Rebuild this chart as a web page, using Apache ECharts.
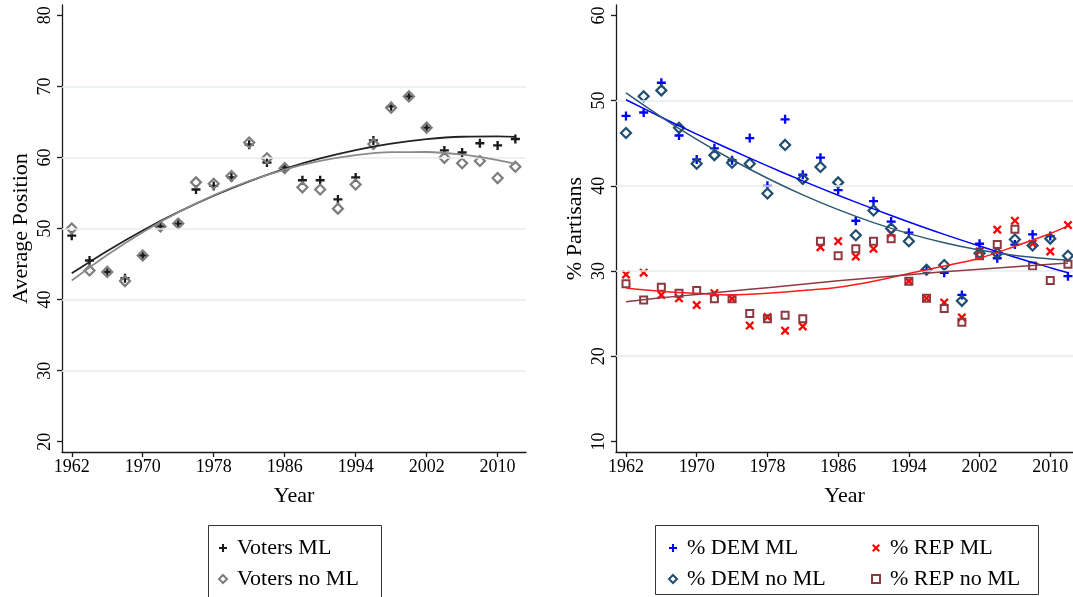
<!DOCTYPE html>
<html><head><meta charset="utf-8">
<script src="https://cdn.jsdelivr.net/npm/echarts@6/dist/echarts.min.js"></script>
<style>html,body{margin:0;padding:0;background:#fff}#c{width:1073px;height:597px}</style>
</head><body><div id="c"></div>
<script>
const years = [1962,1964,1966,1968,1970,1972,1974,1976,1978,1980,1982,1984,1986,1988,1990,1992,1994,1996,1998,2000,2002,2004,2006,2008,2010,2012];
const votersML   = [49.0,45.5,43.9,43.0,46.2,50.3,50.7,55.5,56.0,57.2,61.8,59.3,58.6,56.8,56.8,54.1,57.2,62.4,67.2,68.6,64.2,61.0,60.7,62.0,61.7,62.6];
const votersNoML = [50.0,44.1,43.9,42.6,46.2,50.3,50.7,56.5,56.3,57.4,62.1,59.9,58.5,55.8,55.5,52.8,56.2,61.9,67.0,68.6,64.2,59.95,59.2,59.5,57.1,58.7];
const demML   = [48.2,48.6,52.1,45.9,43.1,44.4,43.0,45.6,40.0,47.8,41.3,43.3,39.5,35.9,38.2,35.8,34.5,30.1,29.8,27.2,33.2,31.5,33.1,34.3,34.1,29.4];
const demNoML = [46.2,50.5,51.2,46.8,42.6,43.6,42.7,42.6,39.1,44.8,40.8,42.2,40.4,34.2,37.1,35.0,33.5,30.15,30.7,26.5,32.1,32.1,33.7,33.0,33.8,31.8];
const repML   = [29.6,29.8,27.2,26.8,26.0,27.4,26.75,23.6,24.6,23.0,23.5,32.8,33.5,31.7,32.6,34.4,28.8,26.8,26.3,24.55,32.3,34.85,35.9,33.2,32.3,35.4];
const repNoML = [28.5,26.6,28.1,27.4,27.7,26.75,26.75,25.0,24.4,24.8,24.4,33.5,31.8,32.6,33.5,33.8,28.8,26.8,25.6,24.0,31.8,33.1,34.9,30.6,28.9,30.8];

const fitYears = [1962,1966,1970,1974,1978,1982,1986,1990,1994,1998,2002,2006,2010,2012];
const fitVotersML   = [43.7,46.85,49.73,52.31,54.62,56.65,58.4,59.87,61.05,61.95,62.58,62.92,62.97,62.9];
const fitVotersNoML = [42.7,46.29,49.49,52.29,54.69,56.69,58.3,59.51,60.33,60.75,60.77,60.4,59.64,59.1];
const fitDemML   = [50.1,48.05,46.07,44.17,42.34,40.58,38.9,37.29,35.76,34.3,32.93,31.62,30.39,29.8];
const fitDemNoML = [50.9,48.07,45.45,43.06,40.89,38.93,37.2,35.68,34.39,33.32,32.46,31.83,31.42,31.3];
const fitRepML   = [28.0,27.6,27.4,27.2,27.4,27.7,28.1,28.8,29.7,30.6,31.5,32.9,34.4,35.3];
const fitRepNoML = [26.4,26.85,27.25,27.65,28.05,28.45,28.85,29.2,29.55,29.9,30.2,30.5,30.8,30.95];

const xTicks = [1962,1970,1978,1986,1994,2002,2010];
const yTicksLeft = [20,30,40,50,60,70,80];
const yTicksRight = [10,20,30,40,50,60];
const gridLinesLeft = [30,40,50,60,70];
const gridLinesRight = [20,30,40,50];

const FONT = '"Liberation Serif", "Times New Roman", serif';
const PLUS = 'path://M-1.3,-5L1.3,-5L1.3,-1.3L5,-1.3L5,1.3L1.3,1.3L1.3,5L-1.3,5L-1.3,1.3L-5,1.3L-5,-1.3L-1.3,-1.3Z';
const CROSS = 'path://M-5,-3.2L-3.2,-5L0,-1.8L3.2,-5L5,-3.2L1.8,0L5,3.2L3.2,5L0,1.8L-3.2,5L-5,3.2L-1.8,0Z';

const pair = (xs, ys) => xs.map((x, i) => [x, ys[i]]);
const AX = '#1a1a1a';

function xAxis(gi, min, max) {
  return {
    type: 'value', gridIndex: gi, min: min, max: max,
    name: 'Year', nameLocation: 'middle', nameGap: 33,
    nameTextStyle: {fontFamily: FONT, fontSize: 22, color: '#000'},
    axisLine: {show: true, onZero: false, lineStyle: {color: AX, width: 1.3}},
    axisTick: {show: true, length: 5, customValues: xTicks, lineStyle: {color: AX, width: 1.3}},
    axisLabel: {customValues: xTicks, fontFamily: FONT, fontSize: 18, color: '#000', margin: 6, formatter: v => String(v)},
    splitLine: {show: false}
  };
}
function yAxis(gi, min, max, ticks, name) {
  return {
    type: 'value', gridIndex: gi, min: min, max: max,
    name: name, nameLocation: 'middle', nameGap: 30, nameRotate: 90,
    nameTextStyle: {fontFamily: FONT, fontSize: 22, color: '#000'},
    axisLine: {show: true, onZero: false, lineStyle: {color: AX, width: 1.3}},
    axisTick: {show: true, length: 5, customValues: ticks, lineStyle: {color: AX, width: 1.3}},
    axisLabel: {customValues: ticks, rotate: 90, fontFamily: FONT, fontSize: 18, color: '#000', margin: 8},
    splitLine: {show: false}
  };
}
function gridHelper(xi, vals) {
  return {
    type: 'line', xAxisIndex: xi, yAxisIndex: xi, data: [], z: 1, silent: true,
    markLine: {silent: true, symbol: ['none', 'none'], label: {show: false},
      lineStyle: {color: '#e6eef0', width: 1.5, type: 'solid'},
      emphasis: {disabled: true},
      data: vals.map(v => ({yAxis: v}))}
  };
}
function scatter(name, xi, data, symbol, size, itemStyle, z) {
  return {type: 'scatter', name: name, xAxisIndex: xi, yAxisIndex: xi, data: data,
    symbol: symbol, symbolSize: size, itemStyle: Object.assign({opacity: 1}, itemStyle), z: z, emphasis: {disabled: true}};
}
function fit(xi, data, color, width, z) {
  return {type: 'line', xAxisIndex: xi, yAxisIndex: xi, data: data, smooth: 0.35,
    showSymbol: false, symbol: 'none', lineStyle: {color: color, width: width}, z: z, silent: true};
}
const legendText = {fontFamily: FONT, fontSize: 22, color: '#000', padding: [0,0,0,5]};

const chart = echarts.init(document.getElementById('c'), null, {renderer: 'canvas'});
chart.setOption({
  animation: false,
  backgroundColor: '#fff',
  grid: [
    {left: 62, right: 1073 - 526, top: 5, bottom: 597 - 452},
    {left: 616, right: 0, top: 5, bottom: 597 - 452}
  ],
  xAxis: [xAxis(0, 1960.9, 2013.2), xAxis(1, 1960.87, 2012.57)],
  yAxis: [yAxis(0, 18.55, 81.46, yTicksLeft, 'Average Position'), yAxis(1, 8.76, 61.22, yTicksRight, '% Partisans')],
  legend: [
    {left: 213, top: 532, orient: 'vertical', itemGap: 9, itemWidth: 8, itemHeight: 8,
     textStyle: legendText, data: ['Voters ML', 'Voters no ML'], selectedMode: false},
    {left: 663, top: 532, orient: 'vertical', itemGap: 9, itemWidth: 8, itemHeight: 8,
     textStyle: legendText, data: ['% DEM ML', '% DEM no ML'], selectedMode: false},
    {left: 866, top: 532, orient: 'vertical', itemGap: 9, itemWidth: 8, itemHeight: 8,
     textStyle: legendText, data: ['% REP ML', '% REP no ML'], selectedMode: false}
  ],
  graphic: [
    {type: 'rect', shape: {x: 208.5, y: 525.5, width: 173, height: 75}, style: {fill: 'none', stroke: '#333', lineWidth: 1}, silent: true},
    {type: 'rect', shape: {x: 655.5, y: 525.5, width: 383, height: 69}, style: {fill: 'none', stroke: '#333', lineWidth: 1}, silent: true}
  ],
  series: [
    gridHelper(0, gridLinesLeft),
    gridHelper(1, gridLinesRight),
    scatter('Voters ML', 0, pair(years, votersML), PLUS, 9, {color: '#1a1a1a'}, 3),
    scatter('Voters no ML', 0, pair(years, votersNoML), 'diamond', 10, {color: 'rgba(255,255,255,0)', borderColor: '#7d7d7d', borderWidth: 2.2}, 4),
    fit(0, pair(fitYears, fitVotersML), '#222222', 1.8, 5),
    fit(0, pair(fitYears, fitVotersNoML), '#8a8a8a', 1.8, 5),
    scatter('% DEM ML', 1, pair(years, demML), PLUS, 9, {color: '#0000ff'}, 3),
    scatter('% DEM no ML', 1, pair(years, demNoML), 'diamond', 10, {color: 'rgba(255,255,255,0)', borderColor: '#1f4e6e', borderWidth: 2.2}, 4),
    scatter('% REP ML', 1, pair(years, repML), CROSS, 9, {color: '#ff0000'}, 3),
    scatter('% REP no ML', 1, pair(years, repNoML), 'rect', 7, {color: 'rgba(255,255,255,0)', borderColor: '#8c3a42', borderWidth: 2}, 4),
    fit(1, pair(fitYears, fitDemML), '#0000ff', 1.5, 5),
    fit(1, pair(fitYears, fitDemNoML), '#2d5873', 1.5, 5),
    fit(1, pair(fitYears, fitRepML), '#ff1a1a', 1.5, 5),
    fit(1, pair(fitYears, fitRepNoML), '#8c3a46', 1.5, 5)
  ]
});
</script>
</body></html>
